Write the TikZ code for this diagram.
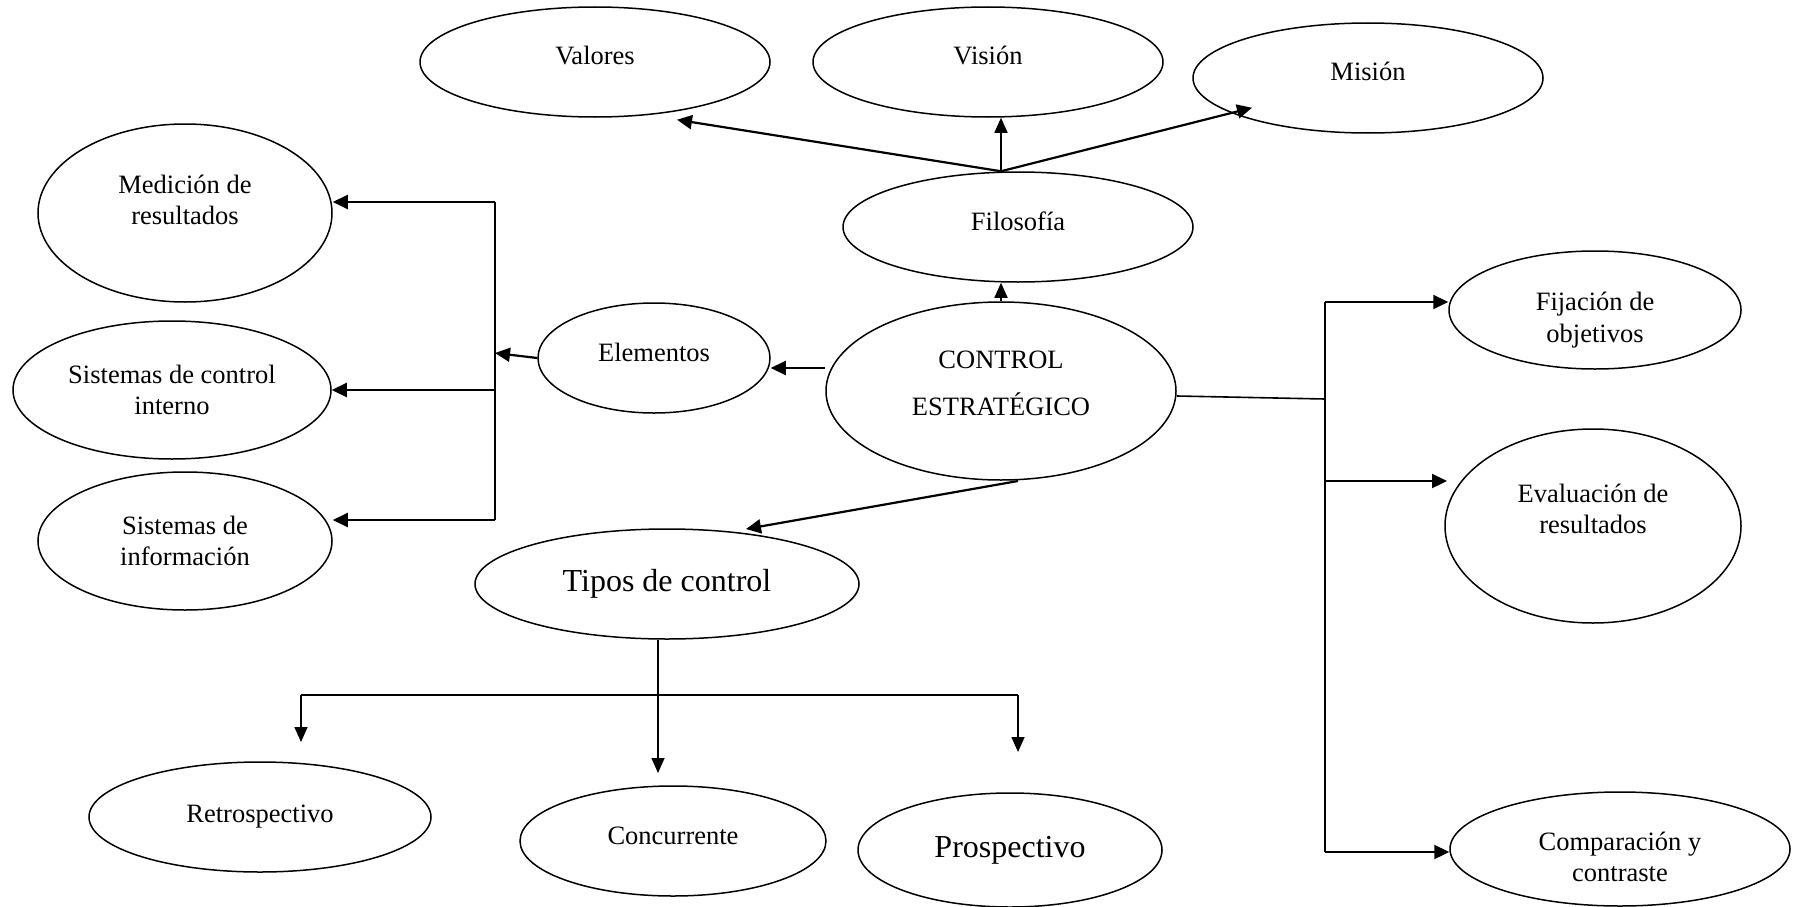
\documentclass[tikz,border=0pt]{standalone}
\usepackage{fontspec}
\setmainfont{Liberation Serif}
\usetikzlibrary{shapes.geometric,arrows.meta,calc}
\tikzset{
  ell/.style={ellipse, draw, line width=1.5pt, inner sep=0pt, align=center,
    font=\fontsize{26.5}{31.7}\selectfont},
  oneline/.style={text height=18pt, text depth=12pt},
  big/.style={font=\fontsize{32}{38}\selectfont},
  arr/.style={line width=2.2pt, -{Triangle[length=15pt,width=14pt]}},
  thinarr/.style={line width=1.6pt, -{Triangle[length=15pt,width=13pt]}},
  bus/.style={line width=1.6pt},
  txt/.style={align=center, font=\fontsize{26.5}{31.7}\selectfont}
}
\begin{document}
\begin{tikzpicture}[x=1pt,y=-1pt]
\useasboundingbox (0,0) rectangle (1793,907);

% central concept and first level
\node[ell, minimum width=350pt, minimum height=178pt,
  label={[align=center, font=\fontsize{26.5}{47}\selectfont, yshift=7.5pt]center:CONTROL\\ESTRATÉGICO}]
  (ctrl) at (1001,391) {};
\node[ell, oneline, minimum width=350pt, minimum height=110pt] (filo) at (1018,227) {Filosofía};
\node[ell, oneline, minimum width=232pt, minimum height=110pt] (elem) at (654,358) {Elementos};
\node[ell, big, minimum width=384pt, minimum height=110pt] (tipos) at (667,584) {Tipos de control};

% philosophy
\node[ell, oneline, minimum width=350pt, minimum height=110pt] (valo) at (595,62) {Valores};
\node[ell, oneline, minimum width=350pt, minimum height=110pt] (visi) at (988,62) {Visión};
\node[ell, oneline, minimum width=350pt, minimum height=110pt] (misi) at (1368,78) {Misión};

% elements
\node[ell, minimum width=294pt, minimum height=178pt,
  label={[txt, yshift=13pt]center:Medición de\\resultados}] (medi) at (185,213) {};
\node[ell, minimum width=318pt, minimum height=138pt] (sci) at (172,390) {Sistemas de control\\interno};
\node[ell, minimum width=294pt, minimum height=138pt] (sinf) at (185,541) {Sistemas de\\información};

% types of control
\node[ell, minimum width=342pt, minimum height=110pt] (retro) at (260,817) {Retrospectivo};
\node[ell, oneline, minimum width=306pt, minimum height=110pt] (conc) at (673,841) {Concurrente};
\node[ell, big, minimum width=304pt, minimum height=114pt] (prosp) at (1010,850) {Prospectivo};

% process
\node[ell, minimum width=292pt, minimum height=118pt,
  label={[txt, yshift=-10pt]center:Fijación de\\objetivos}] (fija) at (1595,310) {};
\node[ell, minimum width=296pt, minimum height=194pt,
  label={[txt, yshift=17pt]center:Evaluación de\\resultados}] (eval) at (1593,526) {};
\node[ell, minimum width=340pt, minimum height=114pt,
  label={[txt, yshift=-8pt]center:Comparación y\\contraste}] (comp) at (1620,849) {};

% philosophy fan
\coordinate (fk) at (ctrl.north |- filo.north);
\coordinate (valoT) at ($(valo.south)+(82,2)$);
\coordinate (misiT) at ($(misi.south)+(-116,-26)$);
\draw[arr] (fk) -- (valoT);
\draw[thinarr] (fk) -- (fk |- visi.south);
\draw[arr] (fk) -- (misiT);
\draw[thinarr] (ctrl.north) -- (ctrl.north |- filo.south);

% elements bus
\coordinate (lb) at (495,353);
\draw[arr] (ctrl.west |- 0,368) -- (elem.east |- 0,368);
\draw[arr] (elem.west) -- (lb);
\draw[bus] (lb |- 0,202) -- (lb |- 0,520);
\draw[arr] (lb |- 0,202) -- (medi.east |- 0,202);
\draw[arr] (lb |- 0,390) -- (sci.east);
\draw[arr] (lb |- 0,520) -- (sinf.east |- 0,520);

% types of control
\coordinate (cb) at (1018,481);
\coordinate (tipT) at (746,529);
\draw[arr] (cb) -- (tipT);
\coordinate (tb) at (658,695);
\draw[thinarr] (tb |- tipos.south) -- (658,773);
\draw[bus] (301,695) -- (1018,695);
\draw[thinarr] (301,695) -- (301,742);
\draw[thinarr] (1018,695) -- (1018,752);

% process bus
\coordinate (rb) at (1325,399);
\draw[bus] ($(ctrl.east)+(0,5)$) -- (rb);
\draw[bus] (1325,302) -- (1325,852);
\draw[arr] (1325,302) -- (fija.west |- 0,302);
\draw[arr] (1325,481) -- (1447,481);
\draw[arr] (1325,852) -- (comp.west |- 0,852);
\end{tikzpicture}
\end{document}
